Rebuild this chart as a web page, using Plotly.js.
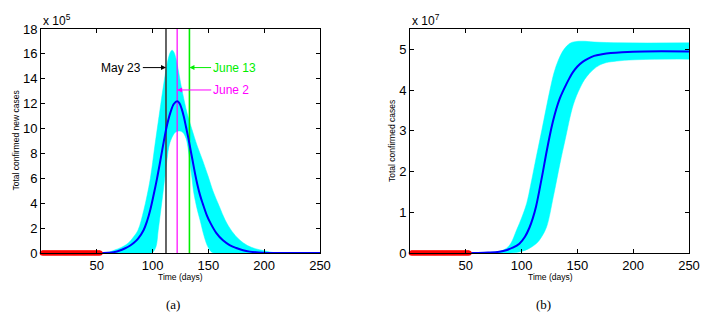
<!DOCTYPE html>
<html>
<head>
<meta charset="utf-8">
<script src="https://cdn.plot.ly/plotly-3.0.1.min.js"></script>
<style>html,body{margin:0;padding:0;background:#fff;}#chart{width:705px;height:316px;}</style>
</head>
<body>
<div id="chart"></div>
<script>
// ---------- observed data (days 1..53, ~0 at these scales) ----------
const obsDays = [1,2,3,4,5,6,7,8,9,10,11,12,13,14,15,16,17,18,19,20,21,22,23,24,25,26,27,28,29,30,31,32,33,34,35,36,37,38,39,40,41,42,43,44,45,46,47,48,49,50,51,52,53];
const obsNew  = [0,0,0,0,0,0,0,0,0,0,0,0,0,0,0,0,0,0,0,0,0,0,0,0,0,0,0,0,0,0,0,0,0,0,0,0,0,0,0,0,0,0,0,0,0,0,0,0,0,0,0,0,0];
const obsCum  = [0,0,0,0,0,0,0,0,0,0,0,0,0,0,0,0,0,0,0,0,0,0,0,0,0,0,0,0,0,0,0,0,0,0,0,0,0,0,0,0,0,0,0,0,0,0,0,0,0,0,0,0,0];

// ---------- Panel (a): new cases (x 10^5) ----------
const meanNewDays = [53,56,60,65,70,75,80,83,87,92,95,98,101,104,107,110,113,116,119,122,124,126,128,130,132,134,136,138,140,142.5,145,148.5,152,157,163,169,175,181,187,195,202,210,250];
const meanNew     = [0,0.005,0.02,0.06,0.18,0.36,0.6,0.8,1.15,1.85,2.55,3.5,4.7,6.0,7.45,8.95,10.3,11.3,11.97,12.2,12.05,11.6,10.95,10.1,9.25,8.3,7.35,6.4,5.55,4.65,3.95,3.05,2.38,1.62,1.02,0.64,0.4,0.22,0.11,0.04,0.01,0,0];

const upperNewDays = [53,60,66,72,78,83,87,92,95,98,102,105,108,110,112,114,116,117.5,119,121,123,125,127,131,135,140,145,150,154,160,165,171,178,185,192,199,205,212];
const upperNew     = [0,0.05,0.24,0.45,0.78,1.3,1.85,3.4,4.6,6.0,8.6,10.5,12.4,13.6,14.7,15.6,16.15,16.3,16.15,15.6,14.7,13.7,12.8,11.2,10.0,8.6,7.4,6.1,5.0,3.7,2.65,1.75,1.05,0.6,0.35,0.2,0.08,0];

const lowerNewDays = [53,97,100,103,105,107,109,111,113,115,118,121,124,127,130,132,135,137,140,142.5,146,149,152,155,212];
const lowerNew     = [0,0,0.05,0.5,1.8,3.2,4.6,6.1,7.6,8.7,9.4,9.75,9.8,9.7,9.2,8.3,6.2,4.8,3.5,2.65,1.4,0.6,0.15,0,0];

const markDays   = [112,122,133];
const markLabels = ["May 23","June 2","June 13"];
const markColors = ["#404040","#ff00ff","#00ee00"];

// ---------- Panel (b): total cases (x 10^7) ----------
const meanCumDays = [53,60,70,80,87,92,98,103,107,110,113,116,119,122,125,128,131,134,137,140,143,146,150,155,160,165,172,180,190,210,250];
const meanCum     = [0,0.002,0.01,0.03,0.075,0.13,0.23,0.4,0.62,0.85,1.15,1.55,1.98,2.43,2.85,3.22,3.53,3.78,3.97,4.14,4.3,4.44,4.58,4.7,4.78,4.84,4.88,4.91,4.93,4.95,4.95];

const upperCumDays = [53,70,80,85,90,95.6,100,104.6,108,112,118,125.4,129,133,138,143.4,148,155,165,190,250];
const upperCum     = [0,0.01,0.04,0.09,0.22,0.57,0.86,1.22,1.65,2.2,3.0,4.0,4.42,4.74,5.0,5.15,5.19,5.2,5.18,5.16,5.16];

const lowerCumDays = [53,90,98.6,106,113.5,118,122.5,128.4,134.4,139,146.3,152.3,158.3,170.3,188,250];
const lowerCum     = [0,0,0.03,0.1,0.24,0.4,0.65,1.38,2.2,2.78,3.64,4.05,4.33,4.62,4.72,4.76];

const xTicks  = [50,100,150,200,250];
const yTicksA = [0,2,4,6,8,10,12,14,16,18];
const yTicksB = [0,1,2,3,4,5];

const W = 705, H = 316;
const FONT = "Liberation Sans, Arial, sans-serif";
const SERIF = "Liberation Serif, Times New Roman, serif";
const CYAN = "#00ffff", BLUE = "#0000ff", RED = "#ff0000";

const traces = [];
function band(xl, yl, xu, yu, xa, ya) {
  traces.push({x: xl, y: yl, xaxis: xa, yaxis: ya, mode: "lines",
    line: {color: CYAN, width: 0.5, shape: "spline", smoothing: 1}, hoverinfo: "skip", showlegend: false});
  traces.push({x: xu, y: yu, xaxis: xa, yaxis: ya, mode: "lines", fill: "tonexty", fillcolor: CYAN,
    line: {color: CYAN, width: 0.5, shape: "spline", smoothing: 1}, hoverinfo: "skip", showlegend: false});
}
band(lowerNewDays, lowerNew, upperNewDays, upperNew, "x", "y");
band(lowerCumDays, lowerCum, upperCumDays, upperCum, "x2", "y2");

markDays.forEach((d, i) => {
  traces.push({x: [d, d], y: [0, 18], xaxis: "x", yaxis: "y", mode: "lines",
    line: {color: markColors[i], width: i === 1 ? 1.2 : 1.6}, showlegend: false, hoverinfo: "skip"});
});

traces.push({x: meanNewDays, y: meanNew, xaxis: "x", yaxis: "y", mode: "lines",
  line: {color: BLUE, width: 2, shape: "spline", smoothing: 1}, showlegend: false});
traces.push({x: meanCumDays, y: meanCum, xaxis: "x2", yaxis: "y2", mode: "lines",
  line: {color: BLUE, width: 2, shape: "spline", smoothing: 1}, showlegend: false});

traces.push({x: obsDays, y: obsNew, xaxis: "x", yaxis: "y", mode: "lines+markers", cliponaxis: false,
  line: {color: RED, width: 5}, marker: {color: RED, size: 5}, showlegend: false});
traces.push({x: obsDays, y: obsCum, xaxis: "x2", yaxis: "y2", mode: "lines+markers", cliponaxis: false,
  line: {color: RED, width: 5}, marker: {color: RED, size: 5}, showlegend: false});

const domTop = 1 - 29 / H, domBot = 1 - 253 / H;
function axisBase() {
  return {ticks: "inside", ticklen: 4, tickcolor: "#000", showline: true, linecolor: "#000", linewidth: 1,
    mirror: "allticks", showgrid: false, zeroline: false, tickfont: {family: FONT, size: 13, color: "#000"}};
}
function xax(dom, anchor) {
  return Object.assign(axisBase(), {domain: dom, anchor: anchor, range: [0, 250], tickvals: xTicks, ticktext: xTicks.map(String)});
}
function yax(range, vals, anchor) {
  return Object.assign(axisBase(), {domain: [domBot, domTop], anchor: anchor, range: range, tickvals: vals, ticktext: vals.map(String)});
}

const ann = [];
function txt(x, y, text, opts) {
  ann.push(Object.assign({xref: "paper", yref: "paper", x: x / W, y: 1 - y / H, text: text, showarrow: false,
    xanchor: "center", yanchor: "middle", font: {family: FONT, size: 12, color: "#000"}}, opts || {}));
}
txt(41, 20, "x 10<sup>5</sup>", {xanchor: "left"});
txt(410, 20, "x 10<sup>7</sup>", {xanchor: "left"});
txt(180, 277, "Time (days)", {font: {family: FONT, size: 8.5, color: "#000"}});
txt(550, 277, "Time (days)", {font: {family: FONT, size: 8.5, color: "#000"}});
txt(15.5, 141, "Total confirmed new cases", {textangle: -90, font: {family: FONT, size: 8.5, color: "#000"}});
txt(392, 141, "Total confirmed cases", {textangle: -90, font: {family: FONT, size: 8.5, color: "#000"}});
txt(173, 304, "(a)", {font: {family: SERIF, size: 13, color: "#000"}});
txt(543, 304, "(b)", {font: {family: SERIF, size: 13, color: "#000"}});

// date markers with arrows (text centres in data coords)
const annTextX = [72, 170, 173];
const annY     = [14.9, 13.1, 14.9];
markDays.forEach((d, i) => {
  ann.push({xref: "x", yref: "y", x: d, y: annY[i], axref: "x", ayref: "y", ax: annTextX[i], ay: annY[i],
    text: markLabels[i], showarrow: true, arrowhead: 2, arrowsize: 1, arrowwidth: 1,
    arrowcolor: i === 0 ? "#000" : markColors[i], standoff: 0,
    font: {family: FONT, size: 12, color: i === 0 ? "#000" : markColors[i]}});
});

const layout = {
  width: W, height: H, margin: {l: 0, r: 0, t: 0, b: 0},
  paper_bgcolor: "#fff", plot_bgcolor: "#fff", showlegend: false,
  font: {family: FONT, color: "#000"},
  xaxis: xax([41 / W, 320 / W], "y"),
  yaxis: yax([0, 18], yTicksA, "x"),
  xaxis2: xax([410 / W, 689 / W], "y2"),
  yaxis2: yax([0, 5.5], yTicksB, "x2"),
  annotations: ann
};

Plotly.newPlot("chart", traces, layout, {displayModeBar: false, staticPlot: true});
</script>
</body>
</html>
